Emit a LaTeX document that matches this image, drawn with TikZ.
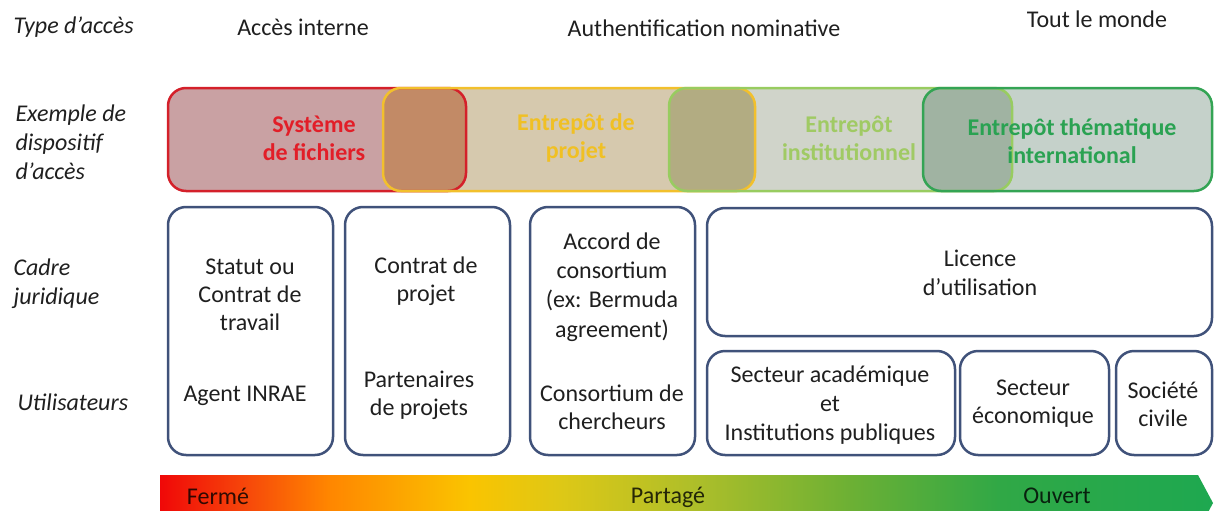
\documentclass[tikz,border=0pt]{standalone}
\usepackage{fontspec}
\setmainfont{Carlito}

\definecolor{fsline}{RGB}{212,32,42}
\definecolor{fsfill}{RGB}{201,161,163}
\definecolor{fstext}{RGB}{226,30,40}
\definecolor{prline}{RGB}{242,192,44}
\definecolor{prfill}{RGB}{214,201,174}
\definecolor{prtext}{RGB}{240,192,36}
\definecolor{inline}{RGB}{152,204,96}
\definecolor{infill}{RGB}{208,212,202}
\definecolor{intext}{RGB}{160,202,100}
\definecolor{thline}{RGB}{52,164,84}
\definecolor{thfill}{RGB}{197,209,202}
\definecolor{thtext}{RGB}{42,162,82}
\definecolor{fsprfill}{RGB}{194,138,102}
\definecolor{prinfill}{RGB}{178,172,130}
\definecolor{inthfill}{RGB}{160,179,162}
\definecolor{boxblue}{RGB}{64,82,122}
\definecolor{barA}{RGB}{240,8,8}
\definecolor{barB}{RGB}{246,70,10}
\definecolor{barC}{RGB}{255,134,0}
\definecolor{barD}{RGB}{250,196,0}
\definecolor{barE}{RGB}{222,200,22}
\definecolor{barF}{RGB}{172,190,42}
\definecolor{barG}{RGB}{108,176,52}
\definecolor{barH}{RGB}{48,168,70}
\definecolor{barI}{RGB}{30,168,80}

\pgfdeclarehorizontalshading{openness}{100bp}{color(0bp)=(barA); color(25bp)=(barA);
  color(29bp)=(barB); color(33bp)=(barC); color(39.7bp)=(barD); color(44bp)=(barE);
  color(50.6bp)=(barF); color(57.8bp)=(barG); color(64.9bp)=(barH); color(75bp)=(barI);
  color(100bp)=(barI)}

\tikzset{
  devbox/.style={line width=2.5pt,rounded corners=18pt},
  devtext/.style={align=center,font=\fontsize{24}{28}\selectfont\bfseries},
  legalbox/.style={draw=boxblue,line width=2.5pt,rounded corners=18pt},
  boxtext/.style={align=center,text=black!88},
  rowlabel/.style={anchor=west,align=left,text=black!88,font=\fontsize{24}{28.8}\selectfont\itshape},
  toplabel/.style={text=black!88},
  barlabel/.style={text=black,text opacity=0.8}
}

\begin{document}
\begin{tikzpicture}[x=1pt,y=-1pt,font=\fontsize{24}{28}\selectfont]
        \useasboundingbox (0,0) rectangle (1215,511);

        % type d'acces
        \node[rowlabel] (typeacces) at (10,27) {Type d’accès};
        \node[toplabel] (interne) at (303,27) {Accès interne};
        \node[toplabel] (nominative) at (704,28) {Authentification nominative};
        \node[toplabel] (monde) at (1097,19) {Tout le monde};

        % dispositifs
        \coordinate (fsA) at (168,88);  \coordinate (fsB) at (466,191);
        \coordinate (prA) at (383,88);  \coordinate (prB) at (755,191);
        \coordinate (inA) at (669,88);  \coordinate (inB) at (1012,191);
        \coordinate (thA) at (923,88);  \coordinate (thB) at (1212,191);

        \fill[devbox,fsfill] (fsA) rectangle (fsB);
        \fill[devbox,prfill] (prA) rectangle (prB);
        \fill[devbox,infill] (inA) rectangle (inB);
        \fill[devbox,thfill] (thA) rectangle (thB);
        \begin{scope}
            \clip[rounded corners=18pt] (fsA) rectangle (fsB);
            \fill[devbox,fsprfill] (prA) rectangle (prB);
        \end{scope}
        \begin{scope}
            \clip[rounded corners=18pt] (prA) rectangle (prB);
            \fill[devbox,prinfill] (inA) rectangle (inB);
        \end{scope}
        \begin{scope}
            \clip[rounded corners=18pt] (inA) rectangle (inB);
            \fill[devbox,inthfill] (thA) rectangle (thB);
        \end{scope}
        \draw[devbox,fsline] (fsA) rectangle (fsB);
        \draw[devbox,prline] (prA) rectangle (prB);
        \draw[devbox,inline] (inA) rectangle (inB);
        \draw[devbox,thline] (thA) rectangle (thB);

        \node[rowlabel] (exemple) at (12,142) {Exemple de\\dispositif\\d’accès};
        \node[devtext,text=fstext] (fichiers) at (314,138) {Système\\de fichiers};
        \node[devtext,text=prtext] (projet) at (576,138) {Entrepôt de\\projet};
        \node[devtext,text=intext] (institution) at (849,138) {Entrepôt\\institutionnel};
        \node[devtext,text=thtext] (thematique) at (1072,141) {Entrepôt thématique\\international};

        % cadre juridique et utilisateurs
        \node[rowlabel] (cadre) at (10,284) {Cadre\\juridique};
        \node[rowlabel] (utilisateurs) at (14,402) {Utilisateurs};

        \draw[legalbox] (168,207) rectangle (333,455);
        \draw[legalbox] (345,207) rectangle (510,455);
        \draw[legalbox] (530,207) rectangle (695,455);
        \draw[legalbox] (707,208) rectangle (1212,336);
        \draw[legalbox] (707,351) rectangle (955,455);
        \draw[legalbox] (960,351) rectangle (1109,455);
        \draw[legalbox] (1116,351) rectangle (1212,455);

        \node[boxtext] (statut) at (250,295) {Statut ou\\Contrat de\\travail};
        \node[boxtext] (agent) at (245,396) {Agent INRAE};
        \node[boxtext] (contrat) at (426,281) {Contrat de\\projet};
        \node[boxtext] (partenaires) at (419,395) {Partenaires\\de projets};
        \node[boxtext,font=\fontsize{24}{29.3}\selectfont] (accord) at (612,287) {Accord de\\consortium\\(ex: Bermuda\\agreement)};
        \node[boxtext] (consortium) at (612,407) {Consortium de\\chercheurs};
        \node[boxtext,font=\fontsize{24}{29}\selectfont] (licence) at (980,273) {Licence\\d’utilisation};
        \node[boxtext,font=\fontsize{24}{29}\selectfont] (academique) at (830,405) {Secteur académique\\et\\Institutions publiques};
        \node[boxtext] (economique) at (1033,404) {Secteur\\économique};
        \node[boxtext] (civile) at (1163,404) {Société\\civile};

        % degre d'ouverture
        \shade[shading=openness] (160,475) -- (1198,475) -- (1213,503) -- (1198,531) -- (160,531) -- cycle;
        \node[barlabel] (ferme) at (218,496) {Fermé};
        \node[barlabel] (partage) at (668,497) {Partagé};
        \node[barlabel] (ouvert) at (1057,496) {Ouvert};
    \end{tikzpicture}
\end{document}
